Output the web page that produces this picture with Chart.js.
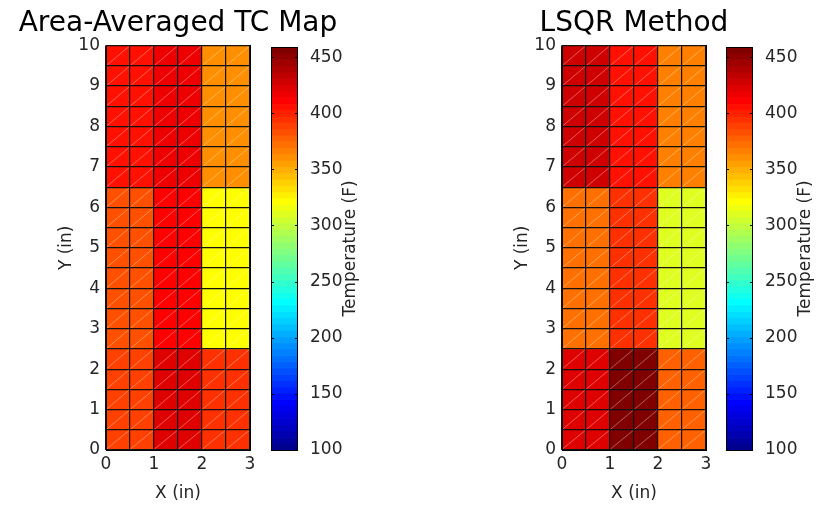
<!DOCTYPE html>
<html>
<head>
<meta charset="utf-8">
<script src="https://cdn.jsdelivr.net/npm/chart.js@4.4.0/dist/chart.umd.min.js"></script>
<style>
  html, body { margin: 0; padding: 0; background: #fff; overflow: hidden; }
  .wrap { position: relative; width: 829px; height: 508px; }
  .wrap canvas { position: absolute; top: 0; }
</style>
</head>
<body>
<div class="wrap">
  <canvas id="mapLeft" width="356" height="508" style="left:0px"></canvas>
  <canvas id="barLeft" width="112" height="508" style="left:256px"></canvas>
  <canvas id="mapRight" width="356" height="508" style="left:456px"></canvas>
  <canvas id="barRight" width="112" height="508" style="left:711px"></canvas>
</div>
<script>
// ---- data ----
// mesh blocks (inches): columns left->right, rows bottom->top
const xBlocks = [[0, 1], [1, 2], [2, 3]];
const yBlocks = [[0, 2.5], [2.5, 6.5], [6.5, 10]];
const meshStep = 0.5;

// block temperatures (F), rows bottom -> top, cols left -> right
const areaAveraged = [
  [389, 423, 394],
  [383, 411, 322],
  [406, 417, 361],
];
const lsqr = [
  [422, 457, 378],
  [372, 394, 310],
  [428, 406, 366],
];

const titles = ["Area-Averaged TC Map", "LSQR Method"];
const xTicks = [0, 1, 2, 3];
const yTicks = [0, 1, 2, 3, 4, 5, 6, 7, 8, 9, 10];
const colorTicks = [100, 150, 200, 250, 300, 350, 400, 450];
const colorMin = 100;
const colorMax = 459;
const colorLevels = 64;

const FONT = "'DejaVu Sans', sans-serif";
const TEXT = "#262626";

// ---- jet colormap (64 levels, like matlab) ----
function jetPart(j) {
  if (j < 1 || j > 47) return 0;
  if (j <= 16) return j / 16;
  if (j <= 31) return 1;
  return (48 - j) / 16;
}
function jetColor(k) {
  // k = 1..64
  const r = Math.round(jetPart(k - 24) * 255);
  const g = Math.round(jetPart(k - 8) * 255);
  const b = Math.round(jetPart(k + 8) * 255);
  return `rgb(${r},${g},${b})`;
}
function colorFor(v) {
  let k = Math.floor(((v - colorMin) / (colorMax - colorMin)) * colorLevels) + 1;
  k = Math.max(1, Math.min(colorLevels, k));
  return jetColor(k);
}

// expand block values onto the 0.5in mesh
function buildCells(blocks) {
  const cells = [];
  yBlocks.forEach(([y0, y1], r) => {
    xBlocks.forEach(([x0, x1], c) => {
      for (let y = y0; y < y1 - 1e-9; y += meshStep) {
        for (let x = x0; x < x1 - 1e-9; x += meshStep) {
          cells.push({ x: x + meshStep / 2, y: [y, y + meshStep], v: blocks[r][c] });
        }
      }
    });
  });
  return cells;
}

// faint diagonal of each triangulated cell
const diagonals = {
  id: "diagonals",
  afterDatasetsDraw(chart) {
    const ctx = chart.ctx;
    ctx.save();
    ctx.strokeStyle = "rgba(255,255,255,0.45)";
    ctx.lineWidth = 0.8;
    chart.getDatasetMeta(0).data.forEach((bar) => {
      const p = bar.getProps(["x", "y", "base", "width"], true);
      const top = Math.min(p.y, p.base);
      const bottom = Math.max(p.y, p.base);
      ctx.beginPath();
      ctx.moveTo(p.x - p.width / 2, bottom);
      ctx.lineTo(p.x + p.width / 2, top);
      ctx.stroke();
    });
    ctx.restore();
  },
};

function makeMap(id, title, blocks) {
  new Chart(document.getElementById(id), {
    type: "bar",
    data: {
      datasets: [
        {
          data: buildCells(blocks),
          backgroundColor: (c) => colorFor(c.raw.v),
          borderWidth: 0,
          barPercentage: 1,
          categoryPercentage: 1,
          grouped: false,
        },
      ],
    },
    options: {
      responsive: false,
      animation: false,
      events: [],
      layout: { padding: 0 },
      plugins: {
        legend: { display: false },
        tooltip: { enabled: false },
        title: {
          display: true,
          text: title,
          color: "#000",
          font: { family: FONT, size: 28, weight: "normal" },
          padding: { top: 7, bottom: 5 },
        },
      },
      scales: {
        x: {
          type: "linear",
          min: 0,
          max: 3,
          offset: false,
          afterFit: (s) => { s.height = 58; },
          grid: { color: "#111", lineWidth: 1.2, drawTicks: false, offset: false, z: 1 },
          border: { display: true, color: "#000", width: 1, z: 1 },
          ticks: {
            stepSize: meshStep,
            autoSkip: false,
            maxRotation: 0,
            padding: 4,
            color: TEXT,
            font: { family: FONT, size: 17 },
            callback: (v) => (xTicks.includes(v) ? v : ""),
          },
          title: {
            display: true,
            text: "X (in)",
            color: TEXT,
            font: { family: FONT, size: 17 },
            padding: { top: 0, bottom: 4 },
          },
        },
        y: {
          min: 0,
          max: 10,
          afterFit: (s) => { s.width = 106; },
          grid: { color: "#111", lineWidth: 1.2, drawTicks: false, z: 1 },
          border: { display: true, color: "#000", width: 1, z: 1 },
          ticks: {
            stepSize: meshStep,
            autoSkip: false,
            padding: 6,
            color: TEXT,
            font: { family: FONT, size: 17 },
            callback: (v) => (yTicks.includes(v) ? v : ""),
          },
          title: {
            display: true,
            text: "Y (in)",
            color: TEXT,
            font: { family: FONT, size: 17 },
            padding: { top: 56, bottom: 0 },
          },
        },
        // empty right-hand axis: leaves room for the colorbar, keeps the title centred
        spacer: {
          type: "linear",
          position: "right",
          afterFit: (s) => { s.width = 106; },
          grid: { display: false },
          border: { display: true, color: "#000", width: 1, z: 1 },
          ticks: { display: false },
        },
      },
    },
    plugins: [diagonals],
  });
}

// colorbar: one stacked column of 64 colour levels
const colorbarDeco = {
  id: "colorbarDeco",
  afterDraw(chart) {
    const { ctx, chartArea: a } = chart;
    const yScale = chart.scales.y;
    ctx.save();
    ctx.strokeStyle = "#000";
    ctx.lineWidth = 1;
    ctx.strokeRect(Math.round(a.left) + 0.5, Math.round(a.top) + 0.5,
      Math.round(a.right - a.left) - 1, Math.round(a.bottom - a.top));
    colorTicks.forEach((t) => {
      const py = Math.round(yScale.getPixelForValue(t)) + 0.5;
      ctx.beginPath();
      ctx.moveTo(a.left, py); ctx.lineTo(a.left + 3, py);
      ctx.moveTo(a.right - 3, py); ctx.lineTo(a.right, py);
      ctx.stroke();
    });
    ctx.translate(a.right + 53, (a.top + a.bottom) / 2);
    ctx.rotate(-Math.PI / 2);
    ctx.fillStyle = TEXT;
    ctx.font = `17px ${FONT}`;
    ctx.textAlign = "center";
    ctx.textBaseline = "middle";
    ctx.fillText("Temperature (F)", 0, 0);
    ctx.restore();
  },
};

function makeColorbar(id) {
  const step = (colorMax - colorMin) / colorLevels;
  const levels = [];
  for (let k = 1; k <= colorLevels; k++) {
    levels.push({ x: "c", y: [colorMin + (k - 1) * step, colorMin + k * step], k });
  }
  new Chart(document.getElementById(id), {
    type: "bar",
    data: {
      labels: ["c"],
      datasets: [
        {
          data: levels,
          backgroundColor: (c) => jetColor(c.raw.k),
          borderWidth: 0,
          barPercentage: 1,
          categoryPercentage: 1,
          grouped: false,
        },
      ],
    },
    options: {
      responsive: false,
      animation: false,
      events: [],
      layout: { padding: { left: 15, right: 0, top: 47, bottom: 58 } },
      plugins: { legend: { display: false }, tooltip: { enabled: false } },
      scales: {
        x: { display: false, offset: true },
        y: {
          position: "right",
          min: colorMin,
          max: colorMax,
          afterFit: (s) => { s.width = 70; },
          grid: { display: false },
          border: { display: false },
          ticks: {
            stepSize: 50,
            includeBounds: false,
            padding: 4,
            color: TEXT,
            font: { family: FONT, size: 17 },
            callback: (v) => (colorTicks.includes(v) ? v : ""),
          },
        },
      },
    },
    plugins: [colorbarDeco],
  });
}

makeMap("mapLeft", titles[0], areaAveraged);
makeColorbar("barLeft");
makeMap("mapRight", titles[1], lsqr);
makeColorbar("barRight");
</script>
</body>
</html>
